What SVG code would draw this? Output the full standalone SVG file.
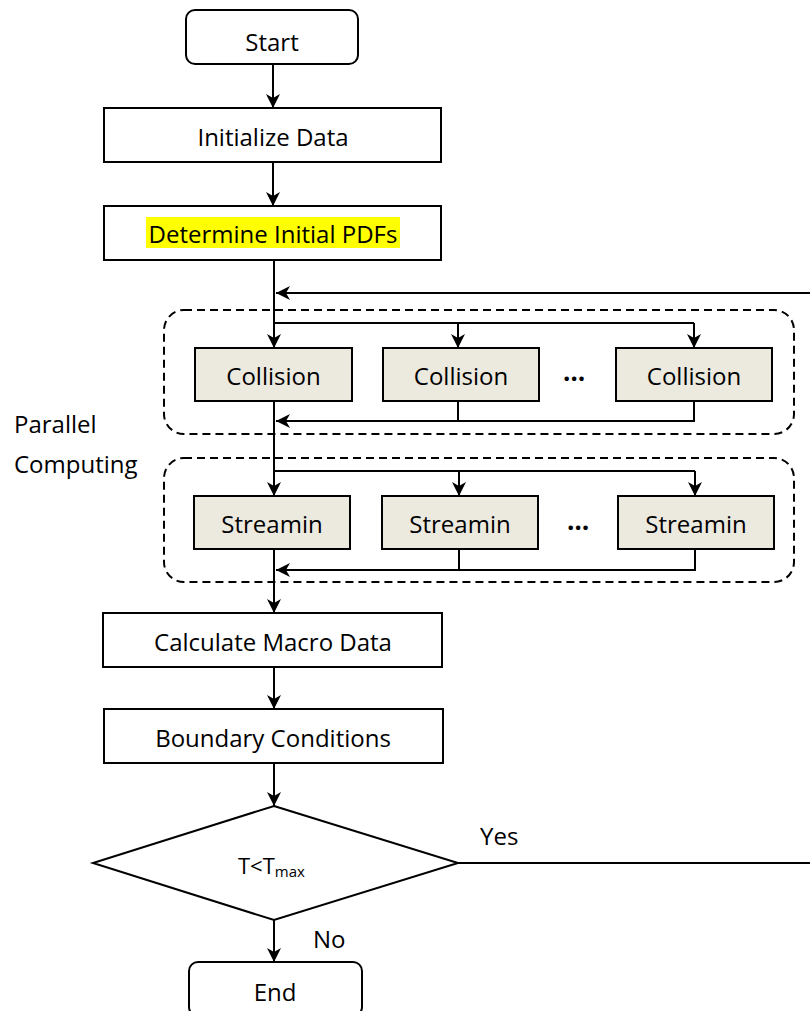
<svg xmlns="http://www.w3.org/2000/svg" width="810" height="1011" viewBox="0 0 810 1011">
<defs>
<style>
.t{font-family:"Open Sans","Noto Sans","Liberation Sans",sans-serif;font-size:24px;fill:#000}
.dots{font-family:"Open Sans","Noto Sans","Liberation Sans",sans-serif;font-size:26px;font-weight:bold;fill:#000}
.box{fill:#fff;stroke:#000;stroke-width:2}
.proc{fill:#ECE9DF;stroke:#000;stroke-width:2}
.grp{fill:none;stroke:#000;stroke-width:2;stroke-dasharray:8 5}
.ln{fill:none;stroke:#000;stroke-width:2}
.ar{fill:none;stroke:#000;stroke-width:2;marker-end:url(#arr)}
</style>
<marker id="arr" viewBox="0 0 14 14" refX="14" refY="7" markerWidth="14" markerHeight="14" markerUnits="userSpaceOnUse" orient="auto">
<path d="M0,0 L14,7 L0,14 L4,7 Z" fill="#000"/>
</marker>
</defs>
<rect width="810" height="1011" fill="#fff"/>

<g id="group-collision"><rect class="grp" x="164" y="310" width="630" height="124" rx="20"/></g>
<g id="group-streaming"><rect class="grp" x="164" y="458" width="630" height="124" rx="20"/></g>

<g id="connectors">
<line class="ar" x1="273" y1="64" x2="273" y2="108"/>
<line class="ar" x1="273" y1="162" x2="273" y2="206"/>
<line class="ar" x1="274" y1="260" x2="274" y2="348"/>
<line class="ar" x1="810" y1="293" x2="276" y2="293"/>
<polyline class="ln" points="274,323 694,323"/>
<line class="ar" x1="458" y1="323" x2="458" y2="348"/>
<line class="ar" x1="694" y1="323" x2="694" y2="348"/>
<line class="ln" x1="458" y1="401" x2="458" y2="421"/>
<polyline class="ar" points="694,401 694,421 276,421"/>
<line class="ar" x1="274" y1="401" x2="274" y2="496"/>
<polyline class="ln" points="274,471 695,471"/>
<line class="ar" x1="459" y1="471" x2="459" y2="496"/>
<line class="ar" x1="695" y1="471" x2="695" y2="496"/>
<line class="ln" x1="459" y1="549" x2="459" y2="570"/>
<polyline class="ar" points="695,549 695,570 276,570"/>
<line class="ar" x1="274" y1="549" x2="274" y2="613"/>
<line class="ar" x1="274" y1="667" x2="274" y2="709"/>
<line class="ar" x1="274" y1="763" x2="274" y2="806"/>
<line class="ln" x1="458" y1="863" x2="810" y2="863"/>
<line class="ar" x1="274" y1="920" x2="274" y2="962"/>
</g>

<g id="start"><rect class="box" x="186" y="10" width="172" height="54" rx="9"/><text class="t" x="272" y="51" text-anchor="middle">Start</text></g>
<g id="init"><rect class="box" x="104" y="108" width="337" height="54"/><text class="t" x="273" y="146" text-anchor="middle">Initialize Data</text></g>
<g id="pdfs"><rect class="box" x="104" y="206" width="337" height="54"/><rect x="146" y="217" width="254" height="31" fill="#FFFF00"/><text class="t" x="273" y="243" text-anchor="middle">Determine Initial PDFs</text></g>

<g id="collision1"><rect class="proc" x="195" y="348" width="157" height="53"/><text class="t" x="273.5" y="385" text-anchor="middle">Collision</text></g>
<g id="collision2"><rect class="proc" x="383" y="348" width="156" height="53"/><text class="t" x="461" y="385" text-anchor="middle">Collision</text></g>
<g id="collision-dots"><text class="dots" x="574" y="381" text-anchor="middle">…</text></g>
<g id="collision3"><rect class="proc" x="616" y="348" width="156" height="53"/><text class="t" x="694" y="385" text-anchor="middle">Collision</text></g>

<g id="stream1"><rect class="proc" x="194" y="496" width="156" height="53"/><text class="t" x="272" y="533" text-anchor="middle">Streamin</text></g>
<g id="stream2"><rect class="proc" x="382" y="496" width="156" height="53"/><text class="t" x="460" y="533" text-anchor="middle">Streamin</text></g>
<g id="stream-dots"><text class="dots" x="578" y="530" text-anchor="middle">…</text></g>
<g id="stream3"><rect class="proc" x="618" y="496" width="156" height="53"/><text class="t" x="696" y="533" text-anchor="middle">Streamin</text></g>

<g id="parallel-label"><text class="t" x="14" y="433">Parallel</text><text class="t" x="14" y="473">Computing</text></g>

<g id="macro"><rect class="box" x="103" y="613" width="339" height="54"/><text class="t" x="273" y="651" text-anchor="middle">Calculate Macro Data</text></g>
<g id="boundary"><rect class="box" x="104" y="709" width="339" height="54"/><text class="t" x="273" y="747" text-anchor="middle">Boundary Conditions</text></g>

<g id="decision"><polygon class="box" points="274,806 458,863 274,920 93,863"/><text class="t" x="238" y="874" style="font-size:22px">T&lt;T<tspan style="font-size:15px" dy="3">max</tspan></text></g>
<g id="yes-label"><text class="t" x="480" y="845">Yes</text></g>
<g id="no-label"><text class="t" x="313" y="948">No</text></g>

<g id="end"><rect class="box" x="189" y="962" width="173" height="54" rx="9"/><text class="t" x="275" y="1001" text-anchor="middle">End</text></g>
</svg>
